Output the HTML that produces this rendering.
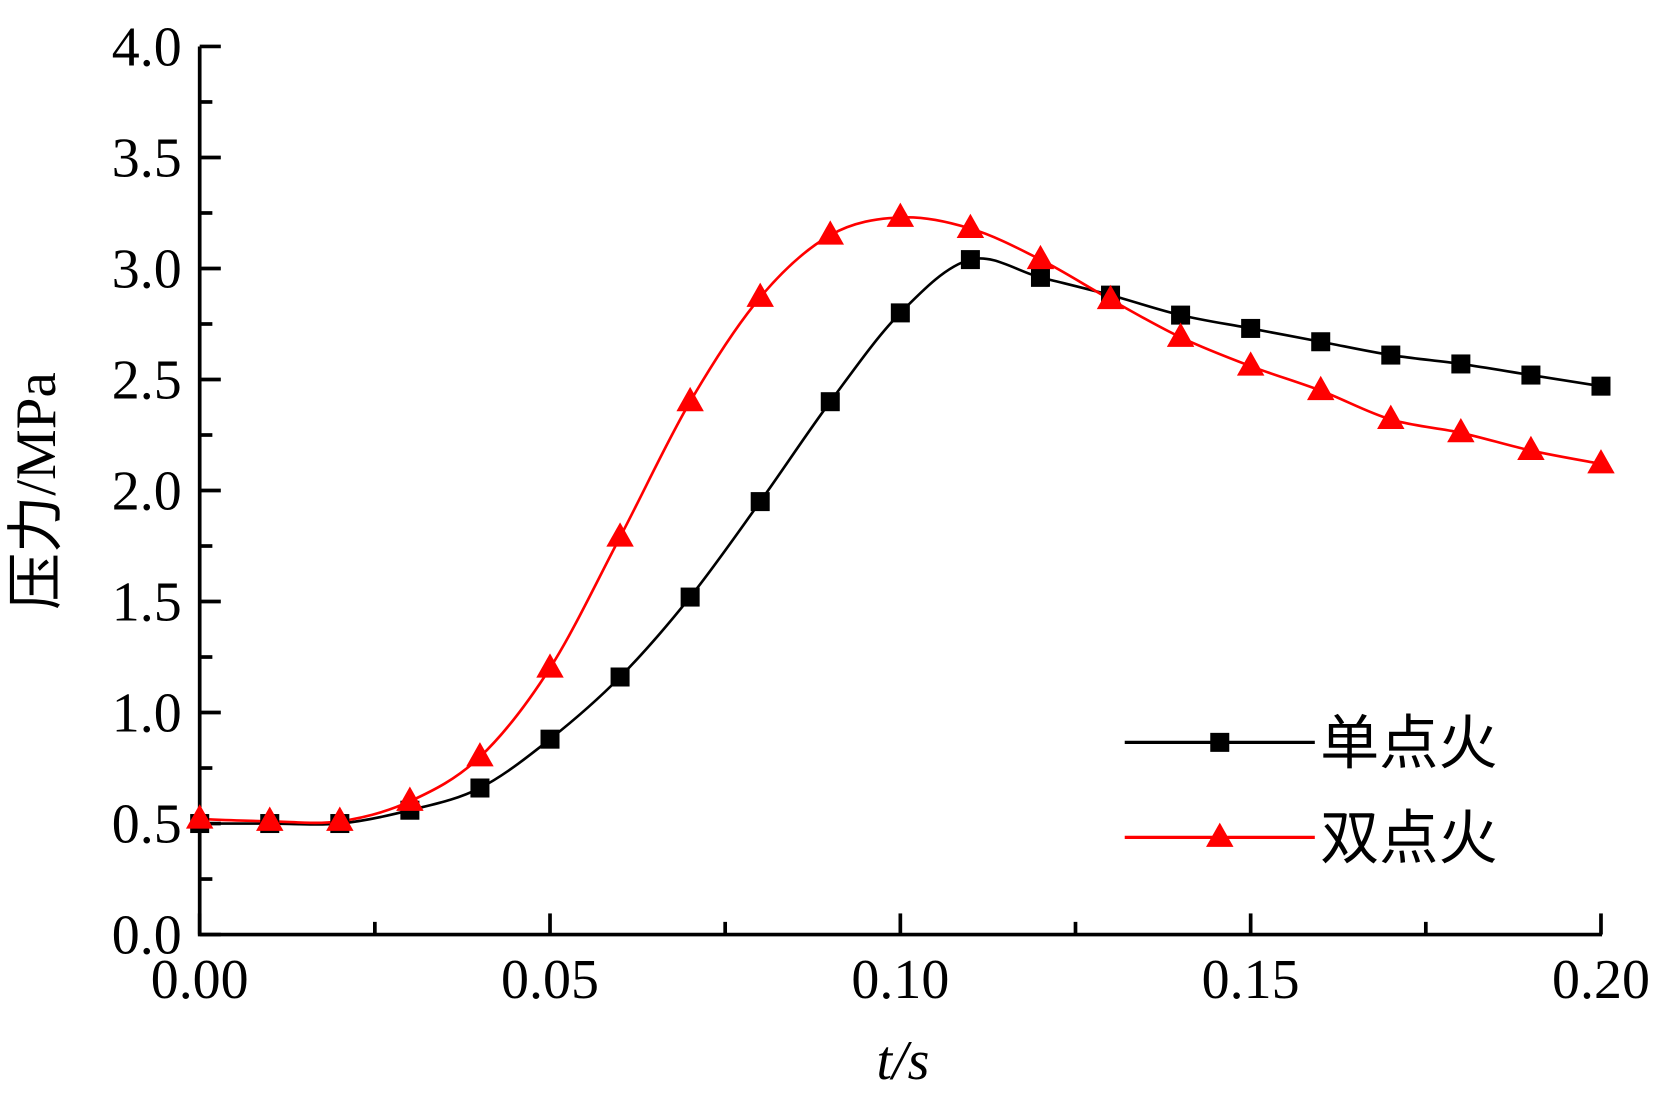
<!DOCTYPE html>
<html><head><meta charset="utf-8"><style>html,body{margin:0;padding:0;background:#fff}svg{display:block}</style></head>
<body>
<svg id="s" width="1656" height="1094" viewBox="0 0 1568 1036" xmlns="http://www.w3.org/2000/svg" font-family="'Liberation Serif','Noto Serif CJK SC',serif">
<rect width="1568" height="1036" fill="#fff"/>
<g id="axes" stroke="#000" stroke-width="3.5" fill="none"></g>
<g id="labels" font-size="53" fill="#000"></g>
<g id="series"></g>
<text x="52" y="465" font-size="54" transform="rotate(-90 52 465)" text-anchor="middle" font-family="'Liberation Serif','Noto Sans CJK SC',serif">压力/MPa</text>
<text x="855" y="1022" font-size="53" font-style="italic" text-anchor="middle">t/s</text>
<g font-size="56" font-family="'Liberation Serif','Noto Sans CJK SC',serif">
<line x1="1065" y1="703" x2="1245" y2="703" stroke="#000" stroke-width="3"/>
<rect x="1146" y="694" width="18" height="18" fill="#000"/>
<text x="1250" y="723">单点火</text>
<line x1="1065" y1="793" x2="1245" y2="793" stroke="#f00" stroke-width="3"/>
<polygon points="1155,779 1168,802 1142,802" fill="#f00"/>
<text x="1250" y="813">双点火</text>
</g>
</svg>
<script>
const NS="http://www.w3.org/2000/svg";
const X=t=>189+t*6635, Y=p=>885-p*210.25;
function el(tag,attrs,parent){const e=document.createElementNS(NS,tag);for(const k in attrs)e.setAttribute(k,attrs[k]);if(parent)parent.appendChild(e);return e;}
const ax=document.getElementById('axes'),lb=document.getElementById('labels');
el('path',{d:`M189,44 V885 H1517`},ax);
for(let i=0;i<=16;i++){const p=i*0.25,y=Y(p),L=i%2==0?20:12;el('line',{x1:189,y1:y,x2:189+L,y2:y},ax);
 if(i%2==0){const t=el('text',{x:172,y:y+18,'text-anchor':'end'},lb);t.textContent=p.toFixed(1);}}
for(let i=0;i<=8;i++){const t=i*0.025,x=X(t),L=i%2==0?20:12;el('line',{x1:x,y1:885,x2:x,y2:885-L},ax);
 if(i%2==0){const tx=el('text',{x:x,y:945,'text-anchor':'middle'},lb);tx.textContent=t.toFixed(2);}}
const black=[[0,.5],[.01,.5],[.02,.5],[.03,.56],[.04,.66],[.05,.88],[.06,1.16],[.07,1.52],[.08,1.95],[.09,2.40],[.10,2.80],[.11,3.04],[.12,2.96],[.13,2.88],[.14,2.79],[.15,2.73],[.16,2.67],[.17,2.61],[.18,2.57],[.19,2.52],[.20,2.47]];
const red=[[0,.52],[.01,.51],[.02,.51],[.03,.60],[.04,.80],[.05,1.20],[.06,1.79],[.07,2.40],[.08,2.87],[.09,3.15],[.10,3.23],[.11,3.18],[.12,3.04],[.13,2.86],[.14,2.69],[.15,2.56],[.16,2.45],[.17,2.32],[.18,2.26],[.19,2.18],[.20,2.12]];
function path(pts){const P=pts.map(([t,p])=>[X(t),Y(p)]);let d=`M${P[0][0]},${P[0][1]}`;
 for(let i=0;i<P.length-1;i++){const p0=P[i-1]||P[i],p1=P[i],p2=P[i+1],p3=P[i+2]||P[i+1];
 d+=` C${p1[0]+(p2[0]-p0[0])/6},${p1[1]+(p2[1]-p0[1])/6} ${p2[0]-(p3[0]-p1[0])/6},${p2[1]-(p3[1]-p1[1])/6} ${p2[0]},${p2[1]}`;}return d;}
const sg=document.getElementById('series');
el('path',{d:path(black),stroke:'#000','stroke-width':2.5,fill:'none'},sg);
el('path',{d:path(red),stroke:'#f00','stroke-width':2.5,fill:'none'},sg);
black.forEach(([t,p])=>el('rect',{x:X(t)-9,y:Y(p)-9,width:18,height:18,fill:'#000'},sg));
red.forEach(([t,p])=>{const x=X(t),y=Y(p);el('polygon',{points:`${x},${y-14} ${x+13},${y+9} ${x-13},${y+9}`,fill:'#f00'},sg);});
</script>
</body></html>
